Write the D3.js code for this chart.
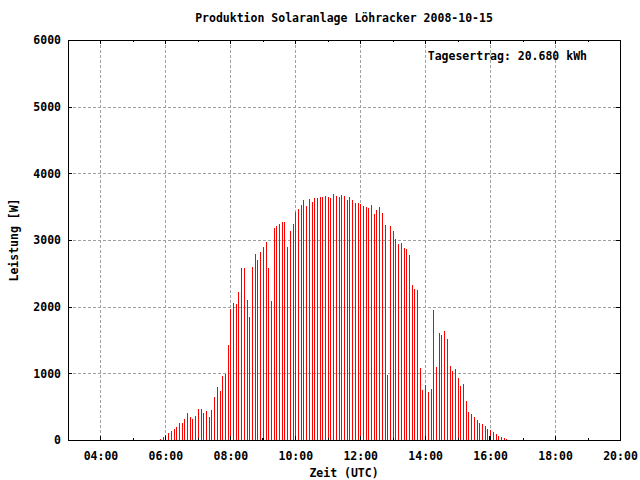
<!DOCTYPE html>
<html><head><meta charset="utf-8">
<script src="https://cdn.jsdelivr.net/npm/d3@7/dist/d3.min.js"></script>
<style>
html,body{margin:0;padding:0;background:#fff;}
svg text{font-family:"DejaVu Sans Mono",monospace;font-weight:bold;font-size:11.5px;fill:#000;}
</style></head>
<body>
<svg id="c" width="640" height="480"></svg>
<script>
const title = "Produktion Solaranlage Löhracker 2008-10-15";
const xLabel = "Zeit (UTC)";
const yLabel = "Leistung [W]";
const annotation = "Tagesertrag: 20.680 kWh";

const times = [
"05:50","05:55","06:00","06:05","06:10","06:15","06:20","06:25","06:30","06:35","06:40","06:45",
"06:50","06:55","07:00","07:05","07:10","07:15","07:20","07:25","07:30","07:35","07:40","07:45",
"07:50","07:55","08:00","08:05","08:10","08:15","08:20","08:25","08:30","08:35","08:40","08:45",
"08:50","08:55","09:00","09:05","09:10","09:15","09:20","09:25","09:30","09:35","09:40","09:45",
"09:50","09:55","10:00","10:05","10:10","10:15","10:20","10:25","10:30","10:35","10:40","10:45",
"10:50","10:55","11:00","11:05","11:10","11:15","11:20","11:25","11:30","11:35","11:40","11:45",
"11:50","11:55","12:00","12:05","12:10","12:15","12:20","12:25","12:30","12:35","12:40","12:45",
"12:50","12:55","13:00","13:05","13:10","13:15","13:20","13:25","13:30","13:35","13:40","13:45",
"13:50","13:55","14:00","14:05","14:10","14:15","14:20","14:25","14:30","14:35","14:40","14:45",
"14:50","14:55","15:00","15:05","15:10","15:15","15:20","15:25","15:30","15:35","15:40","15:45",
"15:50","15:55","16:00","16:05","16:10","16:15","16:20","16:25","16:30"];

const power = [
15,45,75,105,135,165,195,255,255,315,405,345,315,360,465,465,405,435,345,450,645,795,735,960,990,1425,
1965,2055,2040,2220,2580,2580,2100,1845,2595,2790,2700,2820,2895,2970,2580,2085,3180,3210,3240,3270,3270,2895,3135,3240,3420,3465,3525,
3600,3510,3615,3570,3630,3630,3645,3645,3660,3645,3630,3690,3660,3645,3675,3660,3600,3645,3600,3555,3555,3540,3510,3495,3480,3525,3390,
3450,3495,3405,3225,975,3210,3135,3015,2940,2955,2880,2865,2775,2325,2265,2250,1080,750,825,720,765,1950,1095,1605,1575,
1635,1515,1110,1035,1065,930,810,840,585,420,390,345,300,255,240,210,165,150,120,90,60,45,30,15];

const markTimes = ["09:00","16:00"];
const markValues = [30, 60];

const xTickLabels = ["04:00","06:00","08:00","10:00","12:00","14:00","16:00","18:00","20:00"];
const xMinorLabels = ["05:00","07:00","09:00","11:00","13:00","15:00","17:00","19:00"];
const xDomainLabels = ["03:00","20:00"];
const yTicks = [0,1000,2000,3000,4000,5000,6000];

const toH = s => { const [h,m] = s.split(":").map(Number); return h + m/60; };

const L = 68, R = 620, T = 40, B = 440;
const svg = d3.select("#c");
const x = d3.scaleLinear().domain(xDomainLabels.map(toH)).range([L, R]);
const y = d3.scaleLinear().domain([0, 6000]).range([B, T]);

// grid
const grid = svg.append("g").attr("stroke","#a0a0a0").attr("stroke-dasharray","3,2").attr("shape-rendering","crispEdges");
grid.selectAll("line.v").data(xTickLabels.slice(0,-1)).join("line")
  .attr("x1", d => Math.round(x(toH(d)))+0.5).attr("x2", d => Math.round(x(toH(d)))+0.5)
  .attr("y1", T).attr("y2", B);
grid.selectAll("line.h").data(yTicks.slice(1,-1)).join("line")
  .attr("x1", L).attr("x2", R)
  .attr("y1", d => Math.round(y(d))+0.5).attr("y2", d => Math.round(y(d))+0.5);

// bars
svg.append("g").attr("shape-rendering","crispEdges").selectAll("line").data(times).join("line")
  .attr("x1", (d) => Math.round(x(toH(d)))+0.5).attr("x2", (d) => Math.round(x(toH(d)))+0.5)
  .attr("y1", y(0)).attr("y2", (d,i) => y(power[i]))
  .attr("stroke","#ff0000").attr("stroke-width",1);

svg.append("g").attr("shape-rendering","crispEdges").selectAll("line").data(markTimes).join("line")
  .attr("x1", (d) => Math.round(x(toH(d)))-0.5).attr("x2", (d) => Math.round(x(toH(d)))-0.5)
  .attr("y1", y(0)).attr("y2", (d,i) => y(markValues[i]))
  .attr("stroke","#000").attr("stroke-width",1);

// axes
const ax = (g) => g.attr("shape-rendering","crispEdges");
svg.append("g").attr("transform",`translate(0,${B})`)
  .call(d3.axisBottom(x).tickValues(xTickLabels.map(toH)).tickFormat((d,i)=>xTickLabels[i]).tickSizeInner(-4).tickSizeOuter(0).tickPadding(12))
  .call(g => { g.select(".domain").remove(); g.selectAll("text").attr("font-family",null).attr("font-size",null); ax(g); });
svg.append("g").attr("transform",`translate(0,${B})`)
  .call(d3.axisBottom(x).tickValues(xMinorLabels.map(toH)).tickFormat("").tickSizeInner(-2).tickSizeOuter(0))
  .call(g => { g.select(".domain").remove(); ax(g); });
svg.append("g").attr("transform",`translate(0,${T})`)
  .call(d3.axisTop(x).tickValues(xTickLabels.map(toH)).tickFormat("").tickSizeInner(-4).tickSizeOuter(0))
  .call(g => { g.select(".domain").remove(); ax(g); });
svg.append("g").attr("transform",`translate(0,${T})`)
  .call(d3.axisTop(x).tickValues(xMinorLabels.map(toH)).tickFormat("").tickSizeInner(-2).tickSizeOuter(0))
  .call(g => { g.select(".domain").remove(); ax(g); });
svg.append("g").attr("transform",`translate(${L},0)`)
  .call(d3.axisLeft(y).tickValues(yTicks).tickFormat(d3.format("d")).tickSizeInner(-4).tickSizeOuter(0).tickPadding(7))
  .call(g => { g.select(".domain").remove(); g.selectAll("text").attr("font-family",null).attr("font-size",null); ax(g); });
svg.append("g").attr("transform",`translate(${R},0)`)
  .call(d3.axisRight(y).tickValues(yTicks).tickFormat("").tickSizeInner(-4).tickSizeOuter(0))
  .call(g => { g.select(".domain").remove(); ax(g); });

// border
svg.append("rect").attr("x",L+0.5).attr("y",T+0.5).attr("width",R-L).attr("height",B-T)
  .attr("fill","none").attr("stroke","#000").attr("shape-rendering","crispEdges");

// texts
svg.append("text").attr("x",(L+R)/2).attr("y",22).attr("text-anchor","middle").text(title);
svg.append("text").attr("x",(L+R)/2).attr("y",477).attr("text-anchor","middle").text(xLabel);
svg.append("text").attr("transform","translate(18,240) rotate(-90)").attr("text-anchor","middle").text(yLabel);
svg.append("text").attr("x",587).attr("y",60).attr("text-anchor","end").text(annotation);
</script>
</body></html>
